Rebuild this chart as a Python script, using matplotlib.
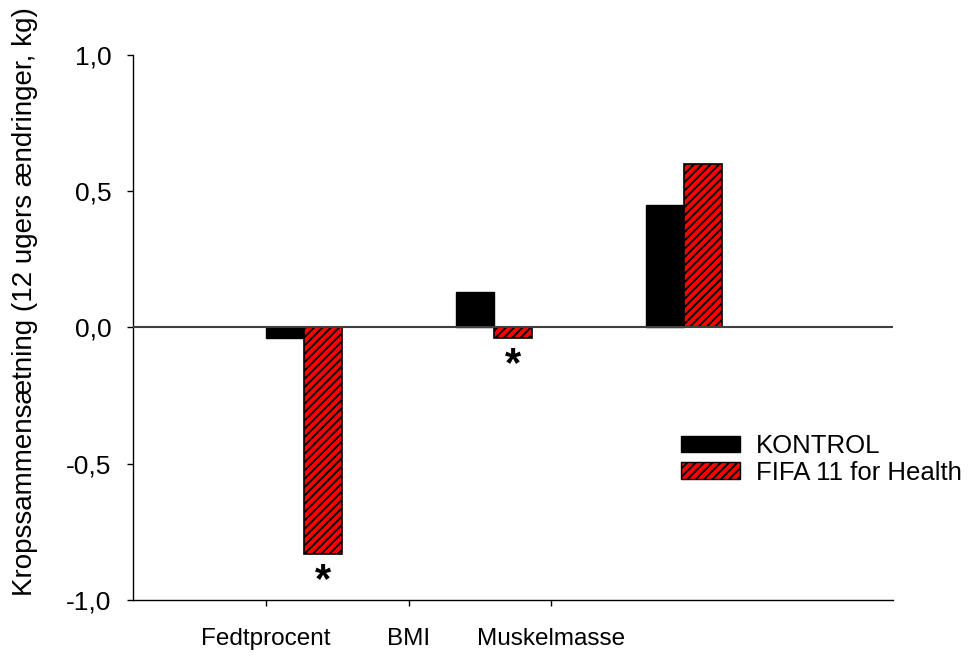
import matplotlib
matplotlib.use("Agg")
import matplotlib.pyplot as plt
from matplotlib.patches import Patch
import numpy as np

plt.rcParams['font.family'] = ['Liberation Sans', 'DejaVu Sans']
plt.rcParams['hatch.linewidth'] = 1.4

categories = ['Fedtprocent', 'BMI', 'Muskelmasse']
kontrol = [-0.04, 0.13, 0.45]
fifa = [-0.83, -0.04, 0.60]
significant = [True, True, False]
series_names = ['KONTROL', 'FIFA 11 for Health']
yticks = [-1.0, -0.5, 0.0, 0.5, 1.0]

fig = plt.figure(figsize=(9.69, 6.57), dpi=100)
ax = fig.add_axes([0.1373, 0.0868, 0.7843, 0.8295])

group_pos = np.arange(len(categories), dtype=float)
tick_pos = group_pos * 0.75
width = 0.2

ax.bar(group_pos, kontrol, width=width, align='edge', color='black',
       edgecolor='black', linewidth=1, zorder=2)
ax.bar(group_pos + width, fifa, width=width, align='edge', color='#ff0000',
       edgecolor='black', linewidth=1.2, hatch='////', zorder=2)

# significance markers under the intervention bars
for x, v, sig in zip(group_pos + 1.5 * width, fifa, significant):
    if sig:
        ax.annotate('*', xy=(x, v), xytext=(0, -5), textcoords='offset points',
                    ha='center', va='top', fontsize=30, fontweight='bold',
                    color='black')

ax.axhline(0, color='#404040', linewidth=1.5, zorder=3)

ax.set_xlim(-0.7, 3.3)
ax.set_ylim(-1.0, 1.0)
ax.set_yticks(yticks)
ax.set_yticklabels([f"{t:.1f}".replace('.', ',') for t in yticks])
ax.set_xticks(tick_pos)
ax.set_xticklabels(categories)

for s in ['top', 'right']:
    ax.spines[s].set_visible(False)
for s in ['left', 'bottom']:
    ax.spines[s].set_linewidth(1.0)
ax.tick_params(axis='y', direction='out', length=4.5, width=1, pad=11, labelsize=19)
ax.tick_params(axis='x', direction='out', length=4.5, width=1, pad=16, labelsize=17.5)

ax.set_ylabel('Kropssammensætning (12 ugers ændringer, kg)', fontsize=20)
ax.yaxis.set_label_coords(-0.125, 0.547)

handles = [Patch(facecolor='black', edgecolor='black'),
           Patch(facecolor='#ff0000', edgecolor='black', hatch='////')]
fig.legend(handles, series_names, loc='upper left',
           bbox_to_anchor=(681 / 969, 1 - 434 / 657), frameon=False,
           fontsize=18.5, handlelength=2.3, handleheight=0.62,
           handletextpad=0.6, labelspacing=0.1, borderpad=0, borderaxespad=0)

fig.savefig('out.png', dpi=100)
